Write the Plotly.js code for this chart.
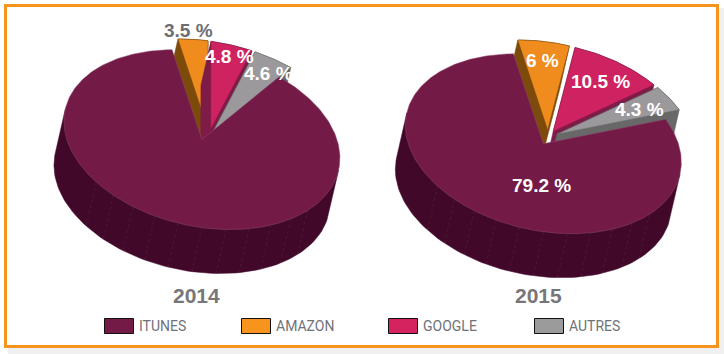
<!DOCTYPE html>
<html><head><meta charset="utf-8">
<script src="https://cdn.plot.ly/plotly-3.0.1.min.js"></script>
<style>html,body{margin:0;padding:0;background:#fff;overflow:hidden}#c{width:724px;height:354px}</style>
</head><body><div id="c"></div>
<script>
// ---- data ----
const categories = ['ITUNES', 'AMAZON', 'GOOGLE', 'AUTRES'];
const values2014 = [87.1, 3.5, 4.8, 4.6];
const values2015 = [79.2, 6, 10.5, 4.3];
const shown2014 = [false, true, true, true];
const shown2015 = [true, true, true, true];
const years = ['2014', '2015'];

// ---- style ----
const topColors  = ['#741a47', '#f08c1e', '#cf2361', '#9b999b'];
const wallColors = ['#42082a', '#7c4a0a', '#7e1b47', '#686868'];
const legendColors = ['#741a47', '#f7941d', '#d4235f', '#9b9b9b'];

// projection of a tilted, extruded pie onto the page
const pies = [
  {values: values2014, shown: shown2014, year: years[0], cx: 205, cy: 133, start: -12.5,
   mainShift: [-1, 0], wedgeShift: [4, 3],
   labelPos: [null, [188,30,'#6d6e71'], [229,56,'#fff'], [268,73,'#fff']], yearX: 196},
  {values: values2015, shown: shown2015, year: years[1], cx: 548, cy: 137, start: -12.5,
   mainShift: [0, 1], wedgeShift: [0, 0],
   labelPos: [[541,185,'#fff'], [542,60,'#fff'], [600,81,'#fff'], [639,109,'#fff']], yearX: 538}
];
const RX = 138, AY = 18.5, BY = 88, DX = -10, DY = 44, EXPLODE = 0.08;

const traces = [], annotations = [], shapes = [];
function proj(deg, r) { const t = deg*Math.PI/180, u = Math.sin(t), v = -Math.cos(t);
  return [RX*u*r, (AY*u + BY*v)*r]; }
function hull(pts) {
  const s = pts.slice().sort((a,b)=>a[0]-b[0]||a[1]-b[1]);
  const cross = (o,a,b)=>(a[0]-o[0])*(b[1]-o[1])-(a[1]-o[1])*(b[0]-o[0]);
  const lo = [], up = [];
  s.forEach(p=>{ while(lo.length>1 && cross(lo[lo.length-2],lo[lo.length-1],p)<=0) lo.pop(); lo.push(p); });
  s.slice().reverse().forEach(p=>{ while(up.length>1 && cross(up[up.length-2],up[up.length-1],p)<=0) up.pop(); up.push(p); });
  return lo.slice(0,-1).concat(up);
}
// angle at which the rim runs parallel to the extrusion: the visible wall starts there
const TANGENT = 180 + Math.atan((RX*DY/DX - AY)/BY)*180/Math.PI;

pies.forEach(p => {
  const order = [1, 2, 3, 0]; // clockwise from the top: itunes fills the rest
  const total = p.values.reduce((a,b)=>a+b,0);
  let ang = p.start;
  order.forEach(i => {
    const sweep = p.values[i]/total*360, a0 = ang, a1 = ang + sweep; ang = a1;
    const off = proj((a0+a1)/2, EXPLODE);
    const shift = i === 0 ? p.mainShift : p.wedgeShift;
    const ox = p.cx + off[0] + shift[0], oy = p.cy + off[1] + shift[1];
    const arc = [];
    const n = Math.max(8, Math.round(sweep));
    for (let k = 0; k <= n; k++) {
      const q = proj(a0 + (a1-a0)*k/n, 1);
      arc.push([ox+q[0], oy+q[1]]);
    }
    let base;
    if (sweep < 180) base = [[ox,oy], ...arc];
    else {
      base = [];
      for (let d = TANGENT; d <= TANGENT+180.01; d += 2) { const q = proj(d,1); base.push([ox+q[0], oy+q[1]]); }
    }
    const wallPts = hull(base.concat(base.map(a=>[a[0]+DX, a[1]+DY])));
    wallPts.push(wallPts[0]);
    traces.push({x: wallPts.map(a=>a[0]), y: wallPts.map(a=>a[1]), name: categories[i]+' '+p.year+' wall',
      mode:'lines', fill:'toself', fillcolor: wallColors[i], line:{width:0.5, color: wallColors[i]}, hoverinfo:'skip'});
    if (i === 0) { // faint ribs on the front wall
      const rx = [], ry = [];
      for (let d = 130; d <= 235; d += 10) {
        const q = proj(d, 1);
        rx.push(ox+q[0], ox+q[0]+DX, null); ry.push(oy+q[1], oy+q[1]+DY, null);
      }
      traces.push({x: rx, y: ry, mode:'lines', line:{width:0.6, color:'rgba(255,255,255,0.10)', dash:'dot'}, hoverinfo:'skip'});
    }
    const tx = [ox, ...arc.map(a=>a[0]), ox], ty = [oy, ...arc.map(a=>a[1]), oy];
    traces.push({x: tx, y: ty, name: categories[i]+' '+p.year, mode:'lines', fill:'toself',
      fillcolor: topColors[i], line:{width:0.5, color: i===0 ? '#8c4a6c' : wallColors[i]}, hoverinfo:'skip'});
  });
  p.labelPos.forEach((pos,i) => {
    if (!pos || !p.shown[i]) return;
    annotations.push({x:pos[0], y:pos[1], xref:'x', yref:'y', showarrow:false, text:'<b>'+p.values[i]+' %</b>',
      font:{family:'Liberation Sans', size:19, color:pos[2]}, xanchor:'center', yanchor:'middle'});
  });
  annotations.push({x:p.yearX, y:295, xref:'x', yref:'y', showarrow:false, text:'<b>'+p.year+'</b>',
    font:{family:'Liberation Sans', size:21, color:'#77777b'}, xanchor:'center', yanchor:'middle'});
});

// legend
const legendX = [104, 241, 388, 534];
categories.forEach((c,i) => {
  shapes.push({type:'rect', xref:'x', yref:'y', x0:legendX[i]+0.5, x1:legendX[i]+29.5, y0:318.5, y1:333.5,
    fillcolor:legendColors[i], line:{color:'#111', width:1}});
  annotations.push({x:legendX[i]+33, y:326, xref:'x', yref:'y', showarrow:false, text:c, xanchor:'left', yanchor:'middle',
    font:{family:'Roboto', size:14, color:'#6f7279'}});
});
// frame and its soft shadow
shapes.push({type:'rect', xref:'x', yref:'y', layer:'below', x0:8, x1:724, y0:8, y1:354, line:{width:0}, fillcolor:'#f0f0f0'});
shapes.push({type:'rect', xref:'x', yref:'y', x0:5.5, x1:717.5, y0:5.5, y1:346.5, line:{color:'#f7941d', width:3}, fillcolor:'rgba(0,0,0,0)'});
shapes.push({type:'rect', xref:'x', yref:'y', layer:'below', x0:7, x1:716, y0:7, y1:345, line:{width:0}, fillcolor:'#fff'});

Plotly.newPlot('c', traces, {
  width:724, height:354, margin:{l:0,r:0,t:0,b:0}, showlegend:false,
  paper_bgcolor:'#fff', plot_bgcolor:'#fff',
  xaxis:{range:[0,724], visible:false, fixedrange:true},
  yaxis:{range:[354,0], visible:false, fixedrange:true},
  shapes, annotations
}, {displayModeBar:false, staticPlot:true});
</script></body></html>
